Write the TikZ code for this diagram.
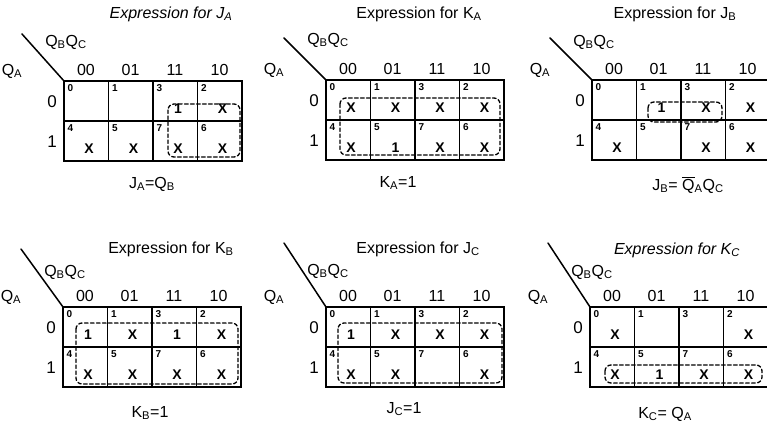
\documentclass[tikz,border=0pt]{standalone}
\usepackage{fontspec}
\setmainfont{Liberation Sans}
\usepackage{tikz}

\begin{document}
\begin{tikzpicture}[x=1pt, y=-1pt, line cap=round,
				font=\fontsize{16}{18}\selectfont,
				gitter/.style={line width=1.8pt},
				nr/.style={font=\fontsize{10}{11}\selectfont\bfseries, inner sep=0pt, anchor=north west},
				eintrag/.style={font=\fontsize{14}{15}\selectfont\bfseries, inner sep=0pt},
				gruppe/.style={draw, line width=1.3pt, dash pattern=on 3.5pt off 2.5pt, rounded corners=6pt}]
				\useasboundingbox (0,0) rectangle (767,433);
				% Tafeln: Nummer/Ursprung/Diagonale/Label/Eintraege/Gruppe
				\foreach \m/\gx/\gy/\dy/\ly/\liste/\ga/\gb in {
					1/64/81/47/39/{{},{},1,X,X,X,X,X}/{(104,23)}/{(176,76)},
					2/326/80/42/40/{X,X,X,X,X,1,X,X}/{(14,18)}/{(174,75)},
					3/592/80/42/38/{{},1,X,X,X,{},X,X}/{(56,22)}/{(130,42)},
					4/63/307/58/35/{1,X,1,X,X,X,X,X}/{(13,16)}/{(175,77)},
					5/326/307/64/36/{1,X,X,X,X,X,{},X}/{(12,16)}/{(176,76)},
					6/590/307/64/35/{X,{},{},X,X,1,X,X}/{(15,58)}/{(172,76)}} {
					\begin{scope}[shift={(\gx,\gy)}]
						% Raster zeichnen
						\draw[gitter] (0,0) rectangle (178,80);
						\draw[gitter] (0,40) -- (178,40);
						\foreach \i in {1,2,3} \draw[gitter] (\i*44.5,0) -- (\i*44.5,80);
						% Diagonale und Variablen
						\coordinate (ecke\m) at (0,0);
						\coordinate (diag\m) at (-42,-\dy);
						\draw[line width=1.5pt] (diag\m) -- (ecke\m);
						\node (qbc\m) at (2,-\ly) {Q\textsubscript{B}Q\textsubscript{C}};
						\node (qa\m) at (-52,-10) {Q\textsubscript{A}};
						\foreach \c [count=\i from 0] in {00,01,11,10}
							\node (sp\m-\i) at (\i*44.5+22,-11) {\c};
						\node[font=\fontsize{17}{18}\selectfont] (z\m-0) at (-12,21) {0};
						\node[font=\fontsize{17}{18}\selectfont] (z\m-1) at (-12,61) {1};
						% Zellnummern und Eintraege
						\foreach \n [count=\k from 0] in {0,1,3,2,4,5,7,6} {
							\pgfmathtruncatemacro\cc{mod(\k,4)}
							\pgfmathtruncatemacro\rr{div(\k,4)}
							\node[nr] (n\m-\n) at (\cc*44.5+3.5,\rr*40+3.5) {\n};
						}
						\foreach \e [count=\k from 0] in \liste {
							\pgfmathtruncatemacro\cc{mod(\k,4)}
							\pgfmathtruncatemacro\rr{div(\k,4)}
							\node[eintrag] (e\m-\k) at (\cc*44.5+25,\rr*40+28) {\e};
						}
						% Gruppe
						\draw[gruppe] \ga rectangle \gb;
					\end{scope}
				}
				% Ueberschriften und Ergebnisse
				\foreach \m/\tx/\ty/\txt in {
					1/171/14/{\itshape Expression for J\textsubscript{A}},
					2/419/14/{Expression for K\textsubscript{A}},
					3/675/14/{Expression for J\textsubscript{B}},
					4/171/249/{Expression for K\textsubscript{B}},
					5/418/249/{Expression for J\textsubscript{C}},
					6/677/250/{\itshape Expression for K\textsubscript{C}}}
					\node (titel\m) at (\tx,\ty) {\txt};
				\foreach \m/\ex/\ey/\txt in {
					1/152/184/{J\textsubscript{A}=Q\textsubscript{B}},
					2/398/183/{K\textsubscript{A}=1},
					3/688/185/{J\textsubscript{B}= $\overline{\hbox{Q}}$\textsubscript{A}Q\textsubscript{C}},
					4/150/413/{K\textsubscript{B}=1},
					5/404/409/{J\textsubscript{C}=1},
					6/665/414/{K\textsubscript{C}= Q\textsubscript{A}}}
					\node (ausdruck\m) at (\ex,\ey) {\txt};
			\end{tikzpicture}
\end{document}
